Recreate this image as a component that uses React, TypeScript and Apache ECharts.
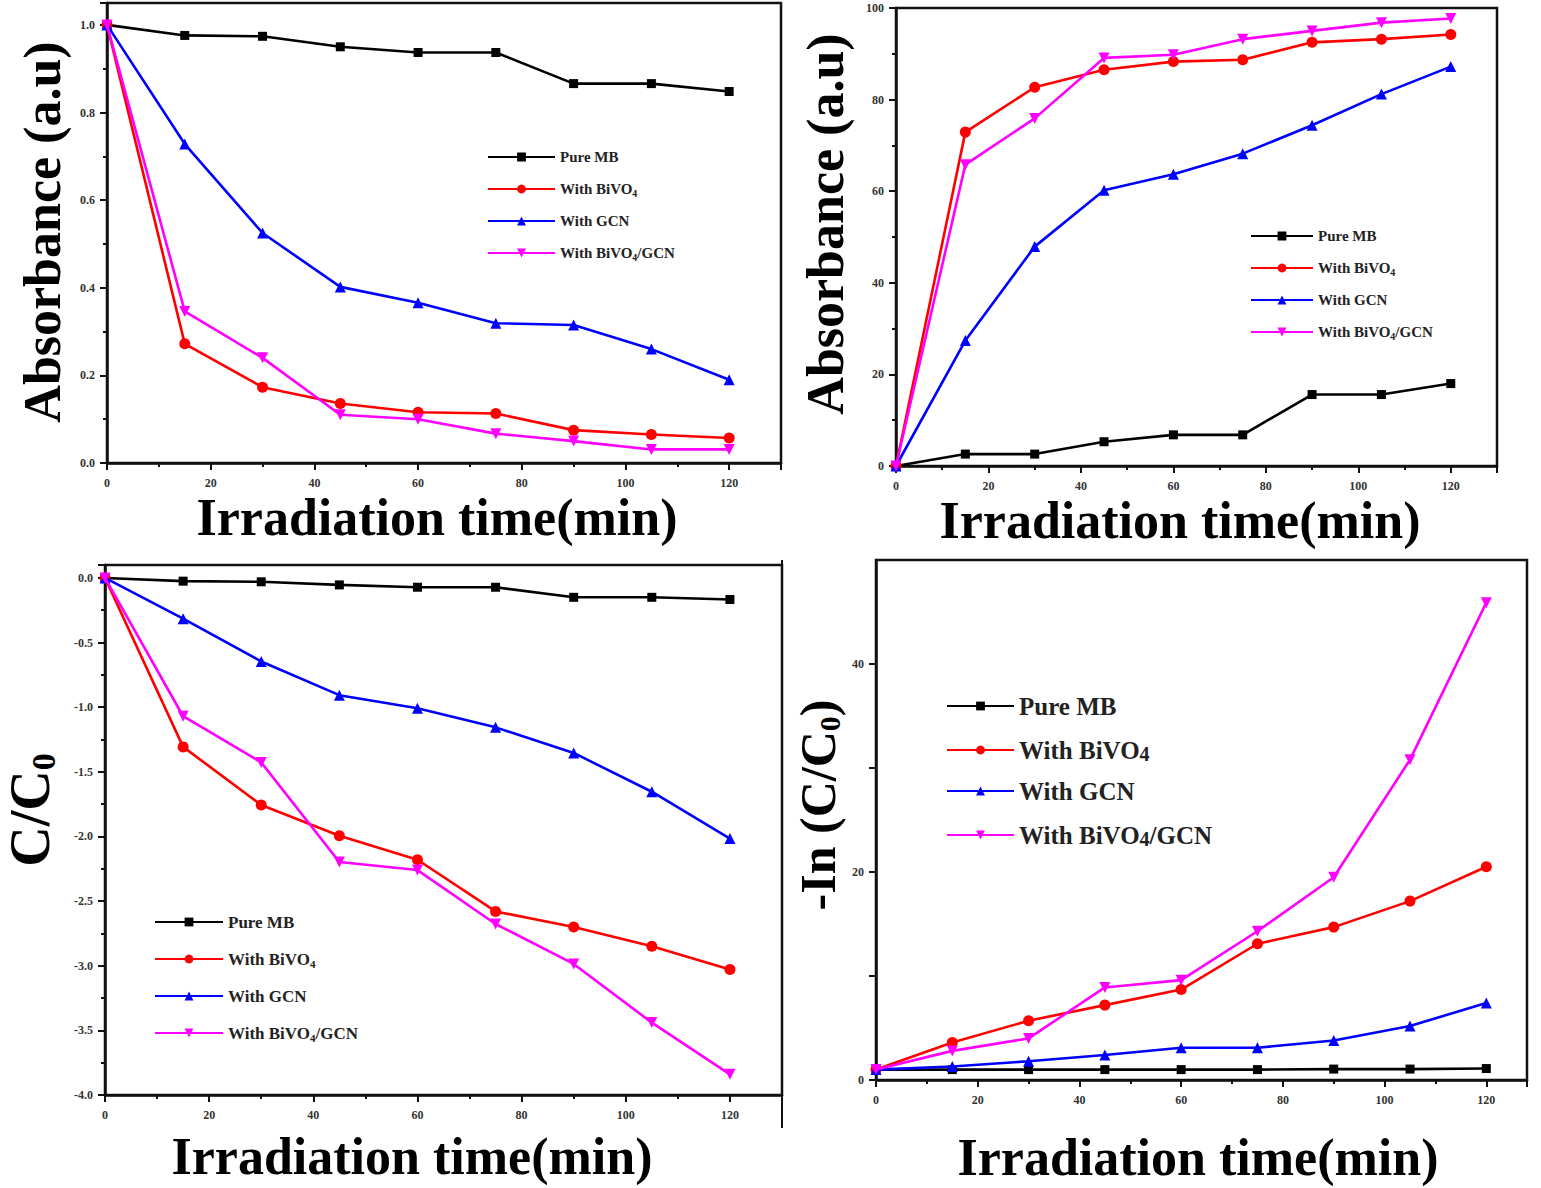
import React, { useEffect, useRef } from "react";
import * as echarts from "echarts";

// Irradiation times (min)
const TIME = [0, 15, 30, 45, 60, 75, 90, 105, 120];

// Series names (shared by all four panels)
const NAMES = ["Pure MB", "With BiVO4", "With GCN", "With BiVO4/GCN"];

// Panel (a): absorbance vs time
const absPure = [1.0, 0.976, 0.974, 0.95, 0.937, 0.937, 0.866, 0.866, 0.848];
const absBiVO4 = [1.0, 0.272, 0.173, 0.136, 0.116, 0.113, 0.075, 0.065, 0.057];
const absGCN = [1.0, 0.728, 0.525, 0.402, 0.366, 0.319, 0.315, 0.26, 0.19];
const absComposite = [1.0, 0.346, 0.24, 0.11, 0.1, 0.067, 0.05, 0.031, 0.031];

// Panel (b): degradation vs time
const degPure = [0, 2.6, 2.6, 5.3, 6.8, 6.8, 15.6, 15.6, 18.0];
const degBiVO4 = [0, 72.9, 82.7, 86.5, 88.3, 88.7, 92.5, 93.2, 94.2];
const degGCN = [0, 27.4, 47.9, 60.2, 63.7, 68.2, 74.4, 81.2, 87.2];
const degComposite = [0, 65.8, 75.9, 89.1, 89.8, 93.2, 95.0, 96.8, 97.7];

// Panel (c): C/C0 vs time
const ratioPure = [0, -0.025, -0.03, -0.054, -0.072, -0.072, -0.15, -0.15, -0.167];
const ratioBiVO4 = [0, -1.307, -1.757, -1.994, -2.18, -2.58, -2.7, -2.85, -3.03];
const ratioGCN = [0, -0.315, -0.646, -0.907, -1.008, -1.156, -1.354, -1.654, -2.016];
const ratioComposite = [0, -1.07, -1.427, -2.198, -2.26, -2.677, -2.986, -3.44, -3.84];

// Panel (d): -ln(C/C0) vs time
const kinPure = [1.0, 1.0, 1.0, 1.0, 1.0, 1.0, 1.05, 1.05, 1.1];
const kinBiVO4 = [1.0, 3.6, 5.7, 7.2, 8.7, 13.1, 14.7, 17.2, 20.5];
const kinGCN = [1.0, 1.3, 1.8, 2.4, 3.1, 3.1, 3.8, 5.2, 7.4];
const kinComposite = [1.0, 2.8, 4.0, 8.9, 9.6, 14.3, 19.5, 30.8, 45.9];

const PANELS = [
  [absPure, absBiVO4, absGCN, absComposite],
  [degPure, degBiVO4, degGCN, degComposite],
  [ratioPure, ratioBiVO4, ratioGCN, ratioComposite],
  [kinPure, kinBiVO4, kinGCN, kinComposite],
];

const COLORS = ["#000000", "#ff0000", "#0000ff", "#ff00ff"];
const SYMBOLS = ["rect", "circle", "triangle", "triangle"];
const ROTATE = [0, 0, 0, 180];

const SERIF = "'Liberation Serif', 'Times New Roman', serif";

function xAxisFor(idx: number, max: number) {
  return {
    type: "value",
    gridIndex: idx,
    min: 0,
    max,
    interval: 20,
    axisLine: { show: true, onZero: false, lineStyle: { color: "#111", width: 2.5 } },
    axisTick: { show: true, length: 7, lineStyle: { color: "#111", width: 2 } },
    minorTick: { show: true, splitNumber: 2, length: 4, lineStyle: { color: "#111", width: 2 } },
    splitLine: { show: false },
    axisLabel: {
      showMaxLabel: false,
      margin: 14,
      fontFamily: SERIF,
      fontWeight: "bold",
      fontSize: 12,
      color: "#333",
    },
  };
}

function yAxisFor(
  idx: number,
  min: number,
  max: number,
  interval: number,
  formatter: (v: number) => string,
  minor: boolean,
  showMax: boolean
) {
  return {
    type: "value",
    gridIndex: idx,
    min,
    max,
    interval,
    axisLine: { show: true, onZero: false, lineStyle: { color: "#111", width: 2.5 } },
    axisTick: { show: true, length: 7, lineStyle: { color: "#111", width: 2 } },
    minorTick: { show: minor, splitNumber: 2, length: 4, lineStyle: { color: "#111", width: 2 } },
    splitLine: { show: false },
    axisLabel: {
      showMaxLabel: showMax,
      margin: 12,
      fontFamily: SERIF,
      fontWeight: "bold",
      fontSize: 12,
      color: "#333",
      formatter,
    },
  };
}

function legendFor(
  left: number,
  top: number,
  itemWidth: number,
  fontSize: number,
  subSize: number,
  lineHeight: number,
  itemGap: number
) {
  return {
    orient: "vertical",
    left,
    top,
    padding: 0,
    itemWidth,
    itemHeight: 11,
    itemGap,
    data: NAMES,
    selectedMode: false,
    formatter: (name: string) => name.replace("BiVO4", "BiVO{s|4}"),
    textStyle: {
      fontFamily: SERIF,
      fontWeight: "bold",
      fontSize,
      lineHeight,
      color: "#222",
      rich: {
        s: {
          fontFamily: SERIF,
          fontWeight: "bold",
          fontSize: subSize,
          lineHeight,
          color: "#222",
          verticalAlign: "bottom",
          padding: [Math.round(fontSize * 0.45), 0, 0, 0],
        },
      },
    },
  };
}

function titleText(x: number, y: number, text: string, rotation = 0, rich?: any) {
  return {
    type: "text",
    x,
    y,
    rotation,
    style: {
      text,
      fontFamily: SERIF,
      fontWeight: "bold",
      fontSize: 52,
      lineHeight: 38,
      fill: "#000",
      align: "center",
      verticalAlign: "middle",
      rich,
    },
  };
}

export default function App() {
  const ref = useRef<HTMLDivElement>(null);

  useEffect(() => {
    if (!ref.current) return;
    const chart = echarts.init(ref.current, undefined, { renderer: "svg" });

    const series: any[] = [];
    PANELS.forEach((panel, p) => {
      panel.forEach((values, s) => {
        series.push({
          type: "line",
          name: NAMES[s],
          xAxisIndex: p,
          yAxisIndex: p,
          data: TIME.map((t, k) => [t, values[k]]),
          symbol: SYMBOLS[s],
          symbolSize: s === 0 ? 9 : 11,
          symbolRotate: ROTATE[s],
          lineStyle: { color: COLORS[s], width: 2.6 },
          itemStyle: { color: COLORS[s] },
          z: 2 + s,
        });
      });
    });

    const subRich = {
      m: { fontFamily: SERIF, fontWeight: "bold", fontSize: 56, lineHeight: 44, fill: "#000" },
      s: { fontFamily: SERIF, fontWeight: "bold", fontSize: 34, lineHeight: 44, fill: "#000", padding: [26, 0, 0, 0] },
    };
    const subRich4 = {
      m: { fontFamily: SERIF, fontWeight: "bold", fontSize: 50, lineHeight: 40, fill: "#000" },
      s: { fontFamily: SERIF, fontWeight: "bold", fontSize: 30, lineHeight: 40, fill: "#000", padding: [22, 0, 0, 0] },
    };

    chart.setOption({
      animation: false,
      backgroundColor: "#ffffff",
      grid: [
        { left: 107, top: 3, width: 674, height: 460, show: true, borderColor: "#111", borderWidth: 2.5 },
        { left: 896, top: 8, width: 601, height: 458, show: true, borderColor: "#111", borderWidth: 2.5 },
        { left: 105, top: 565, width: 677, height: 530, show: true, borderColor: "#111", borderWidth: 2.5 },
        { left: 876, top: 560, width: 651, height: 520, show: true, borderColor: "#111", borderWidth: 2.5 },
      ],
      xAxis: [xAxisFor(0, 130), xAxisFor(1, 130), xAxisFor(2, 130), xAxisFor(3, 128)],
      yAxis: [
        yAxisFor(0, 0, 1.05, 0.2, (v) => v.toFixed(1), true, false),
        yAxisFor(1, 0, 100, 20, (v) => String(Math.round(v)), true, true),
        yAxisFor(2, -4, 0.1, 0.5, (v) => v.toFixed(1), true, false),
        yAxisFor(3, 0, 50, 10, (v) => (Math.round(v) % 20 === 0 ? String(Math.round(v)) : ""), false, false),
      ],
      legend: [
        legendFor(487, 148, 67, 15, 10, 18, 14),
        legendFor(1250, 227, 62, 15, 10, 18, 14),
        legendFor(154, 912, 68, 17, 11, 20, 17),
        legendFor(946, 692, 67, 25, 20, 28, 13),
      ],
      graphic: [
        titleText(437, 517, "Irradiation time(min)"),
        titleText(1180, 520, "Irradiation time(min)"),
        titleText(412, 1156, "Irradiation time(min)"),
        titleText(1198, 1157, "Irradiation time(min)"),
        titleText(42, 232, "Absorbance (a.u)", Math.PI / 2),
        titleText(825, 224, "Absorbance (a.u)", Math.PI / 2),
        titleText(30, 810, "{m|C/C}{s|0}", Math.PI / 2, subRich),
        titleText(818, 805, "{m|-In (C/C}{s|0}{m|)}", Math.PI / 2, subRich4),
        {
          type: "line",
          shape: { x1: 782, y1: 560, x2: 782, y2: 1128 },
          style: { stroke: "#111", lineWidth: 2 },
        },
      ],
      series,
    });

    return () => chart.dispose();
  }, []);

  return (
    <div
      ref={ref}
      style={{ position: "absolute", left: 0, top: 0, width: 1541, height: 1188, background: "#fff" }}
    />
  );
}
